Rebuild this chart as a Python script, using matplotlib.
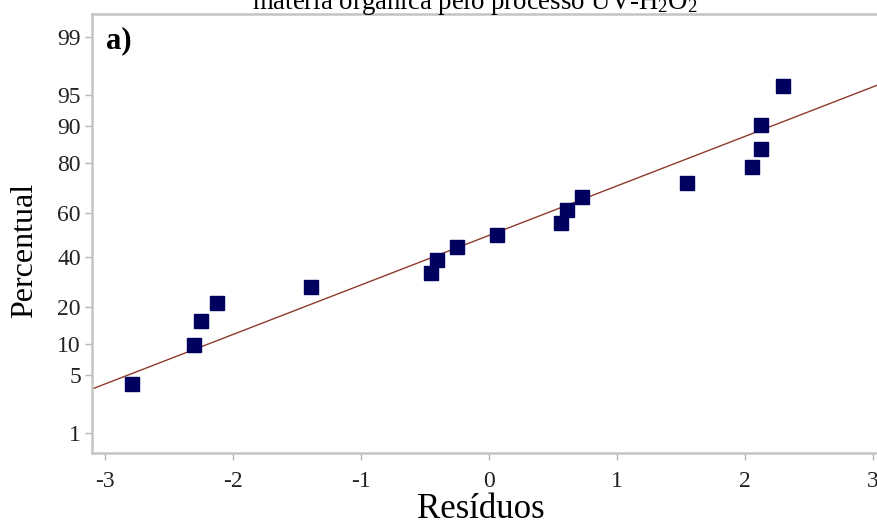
import numpy as np
import matplotlib
matplotlib.use("Agg")
import matplotlib.pyplot as plt
from statistics import NormalDist

# residuals (x) and plotting percentiles (y)
residuos = [-2.79, -2.31, -2.25, -2.13, -1.39, -0.45, -0.41, -0.25, 0.06,
            0.56, 0.61, 0.73, 1.55, 2.06, 2.13, 2.13, 2.30]
percentual = [4.0, 9.8, 15.5, 21.3, 27.0, 32.8, 38.5, 44.3, 50.0,
              55.7, 61.5, 67.2, 73.0, 78.7, 84.5, 90.2, 96.0]
y_ticks = [1, 5, 10, 20, 40, 60, 80, 90, 95, 99]
x_ticks = [-3, -2, -1, 0, 1, 2, 3]

_nd = NormalDist()
_ppf = np.vectorize(lambda p: _nd.inv_cdf(min(max(p / 100.0, 1e-9), 1 - 1e-9)),
                    otypes=[float])
_cdf = np.vectorize(lambda z: _nd.cdf(z) * 100.0, otypes=[float])


def fwd(p):
    return _ppf(np.asarray(p, dtype=float))


def inv(z):
    return _cdf(np.asarray(z, dtype=float))


plt.rcParams.update({
    "font.family": ["Liberation Serif", "DejaVu Serif"],
    "mathtext.fontset": "custom", "mathtext.rm": "Liberation Serif",
    "mathtext.it": "Liberation Serif:italic", "mathtext.bf": "Liberation Serif:bold",
    "axes.unicode_minus": False,
})

fig = plt.figure(figsize=(8.77, 5.27), dpi=100)
ax = fig.add_axes([92 / 877, 1 - 453 / 527, 1 - 92 / 877, (453 - 14) / 527])
ax.set_yscale("function", functions=(fwd, inv))

# fitted normal line from sample mean / std
r = np.array(residuos)
mu, sd = r.mean(), r.std(ddof=1)
xl = np.array([-3.3, 3.3])
ax.plot(xl, inv((xl - mu) / sd), color="#8e3a2e", lw=1.0, zorder=2)

ax.plot(residuos, percentual, ls="none", marker="s", ms=9.5,
        color="#00005e", mec="#00005e", zorder=3)

ax.set_xlim(-3.104, 3.034)
ax.set_ylim(0.52, 99.53)
ax.set_xticks(x_ticks)
ax.set_xticklabels([str(t) for t in x_ticks])
ax.set_yticks(y_ticks)
ax.set_yticklabels([str(t) for t in y_ticks])
ax.minorticks_off()
ax.tick_params(axis="both", labelsize=17, length=5, width=1.0, color="#b5b5b5",
               labelcolor="#222222", direction="out")
ax.tick_params(axis="y", pad=3)
ax.tick_params(axis="x", pad=8)

for side in ("left", "bottom", "top"):
    ax.spines[side].set_color("#c4c4c4")
    ax.spines[side].set_linewidth(1.8)
ax.spines["right"].set_visible(False)

ax.text(14 / 785, 1 - 34 / 439, "a)", transform=ax.transAxes, fontsize=22,
        fontweight="bold", ha="left", va="baseline")

ax.text(-0.0854, 0.461, "Percentual", transform=ax.transAxes, rotation=90,
        fontsize=23, ha="center", va="center")
fig.text(481 / 877, 1 - 518 / 527, "Resíduos", fontsize=25,
         ha="center", va="baseline")

# title, partly cut off at the top edge as in the source
fig.text(475 / 877, 1 - 9 / 527, r"matéria orgânica pelo processo UV-H$_2$O$_2$",
         fontsize=19.3, ha="center", va="baseline")

fig.savefig("out.png", dpi=100)
